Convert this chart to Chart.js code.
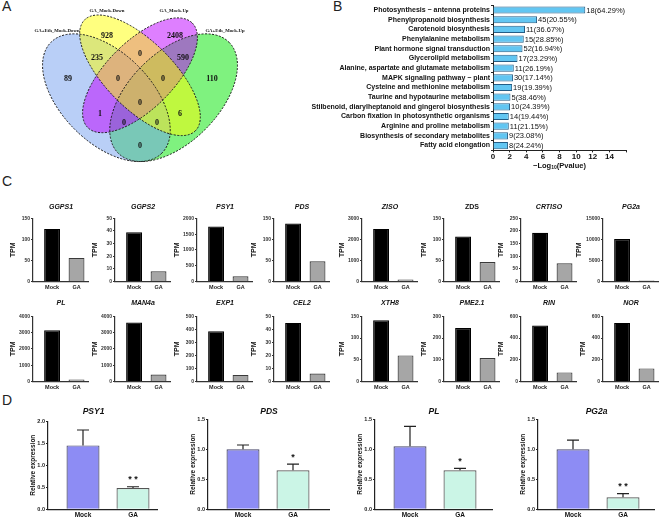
<!DOCTYPE html>
<html>
<head>
<meta charset="utf-8">
<script src="https://cdn.jsdelivr.net/npm/chart.js@4.4.1/dist/chart.umd.min.js"></script>
<style>
  body { margin: 0; width: 666px; height: 518px; overflow: hidden; background: #fff; position: relative; }
  canvas { position: absolute; }
  .tag { position: absolute; font: 14px "Liberation Sans", Arial, sans-serif; color: #222; }
</style>
</head>
<body>
<div class="tag" style="left:2px;top:-2px">A</div>
<div class="tag" style="left:333px;top:-2px">B</div>
<div class="tag" style="left:2px;top:173px">C</div>
<div class="tag" style="left:2px;top:392px">D</div>
<canvas id="cA" width="290" height="178" style="left:0;top:0"></canvas>
<canvas id="cB" width="376" height="172" style="left:290px;top:0"></canvas>
<div id="cC"></div>
<div id="cD"></div>
<script>
const ff = '"Liberation Sans", Arial, sans-serif';

// A: Venn counts
const vennSets = ['GA+Eth_Mock-Down', 'GA_Mock-Down', 'GA_Mock-Up', 'GA+Eth_Mock-Up'];
const vennCounts = [928, 2408, 235, 0, 590, 89, 0, 0, 110, 0, 1, 6, 0, 0, 0];

// B: KEGG enrichment
const pathways = ['Photosynthesis \u2212 antenna proteins', 'Phenylpropanoid biosynthesis', 'Carotenoid biosynthesis',
  'Phenylalanine metabolism', 'Plant hormone signal transduction', 'Glycerolipid metabolism',
  'Alanine, aspartate and glutamate metabolism', 'MAPK signaling pathway \u2212 plant', 'Cysteine and methionine metabolism',
  'Taurine and hypotaurine metabolism', 'Stilbenoid, diarylheptanoid and gingerol biosynthesis',
  'Carbon fixation in photosynthetic organisms', 'Arginine and proline metabolism',
  'Biosynthesis of secondary metabolites', 'Fatty acid elongation'];
const pathLog = [11.1, 5.3, 3.85, 3.7, 3.55, 2.95, 2.5, 2.4, 2.3, 2.1, 2.05, 1.9, 1.9, 1.8, 1.8];
const pathHits = ['18(64.29%)', '45(20.55%)', '11(36.67%)', '15(28.85%)', '52(16.94%)', '17(23.29%)', '11(26.19%)',
  '30(17.14%)', '19(19.39%)', '5(38.46%)', '10(24.39%)', '14(19.44%)', '11(21.15%)', '9(23.08%)', '8(24.24%)'];

// C: TPM
const groups = ['Mock', 'GA'];
const genesC = ['GGPS1', 'GGPS2', 'PSY1', 'PDS', 'ZISO', 'ZDS', 'CRTISO', 'PG2a',
  'PL', 'MAN4a', 'EXP1', 'CEL2', 'XTH8', 'PME2.1', 'RIN', 'NOR'];
const mockTPM = [125, 39, 1740, 138, 2500, 107, 193, 10100, 3150, 3620, 385, 45, 141, 246, 515, 540];
const gaTPM = [56, 8, 160, 48, 90, 46, 72, 200, 110, 420, 50, 6, 60, 108, 83, 120];
const maxTPM = [150, 50, 2000, 150, 3000, 150, 250, 15000, 4000, 4000, 500, 50, 150, 300, 600, 600];
const stepTPM = [50, 10, 500, 50, 1000, 50, 50, 5000, 1000, 1000, 100, 10, 50, 100, 200, 200];

// D: qPCR
const genesD = ['PSY1', 'PDS', 'PL', 'PG2a'];
const relMock = [1.45, 1.0, 1.05, 1.0];
const relGA = [0.48, 0.65, 0.65, 0.2];
const errMock = [0.35, 0.07, 0.33, 0.15];
const errGA = [0.03, 0.1, 0.03, 0.06];
const signif = ['* *', '*', '*', '* *'];
const maxRel = [2.0, 1.5, 1.5, 1.5];

const base = { responsive: false, animation: false, events: [] };
const noLegend = { legend: { display: false }, tooltip: { enabled: false } };

// ---------- A ----------
const ellipses = [ // cx, cy, rx, ry, rotation
  { cx: 106.4, cy: 97.7, rx: 78.4, ry: 44.8, rot: 45, fill: 'rgba(115,160,240,0.5)' },
  { cx: 140, cy: 75.3, rx: 78.4, ry: 33.6, rot: 45, fill: 'rgba(255,255,0,0.5)' },
  { cx: 140, cy: 75.3, rx: 73.9, ry: 33.6, rot: -45, fill: 'rgba(190,0,255,0.5)' },
  { cx: 173.6, cy: 97.7, rx: 78.4, ry: 44.8, rot: -45, fill: 'rgba(0,230,0,0.5)' }
];
const vennSpots = [[107, 36], [175, 36], [97, 58], [140, 54], [183, 58], [68, 79], [118, 79], [163, 79], [212, 79],
  [140, 103], [100, 114], [180, 114], [124, 123], [157, 123], [140, 146]];
const setSpots = [[57, 31], [107, 11], [174, 11], [225, 31]];

const vennPlugin = {
  id: 'venn',
  beforeDatasetsDraw(chart) {
    const { ctx, scales: { x, y } } = chart;
    const k = x.getPixelForValue(1) - x.getPixelForValue(0);
    const path = e => {
      ctx.beginPath();
      ctx.ellipse(x.getPixelForValue(e.cx), y.getPixelForValue(e.cy), e.rx * k, e.ry * k, e.rot * Math.PI / 180, 0, Math.PI * 2);
    };
    ctx.save();
    [3, 0, 2, 1].forEach(i => { path(ellipses[i]); ctx.fillStyle = ellipses[i].fill; ctx.fill(); });
    ctx.setLineDash([2, 1.5]);
    ctx.lineWidth = 1;
    ctx.strokeStyle = '#1a1a1a';
    ellipses.forEach(e => { path(e); ctx.stroke(); });
    ctx.restore();
  },
  afterDatasetsDraw(chart) {
    const { ctx, scales: { x, y } } = chart;
    const meta = chart.getDatasetMeta(0);
    ctx.save();
    ctx.textAlign = 'center';
    ctx.textBaseline = 'middle';
    ctx.fillStyle = '#111';
    ctx.font = 'bold 8px "Liberation Serif", serif';
    meta.data.forEach((pt, i) => ctx.fillText(String(vennCounts[i]), pt.x, pt.y));
    ctx.font = 'bold 4.8px "Liberation Serif", serif';
    vennSets.forEach((s, i) => ctx.fillText(s, x.getPixelForValue(setSpots[i][0]), y.getPixelForValue(setSpots[i][1])));
    ctx.restore();
  }
};

new Chart(document.getElementById('cA'), {
  type: 'scatter',
  data: { datasets: [{ data: vennSpots.map(p => ({ x: p[0], y: p[1] })), pointRadius: 0 }] },
  options: {
    ...base,
    layout: { padding: 0 },
    plugins: noLegend,
    scales: {
      x: { display: false, min: 0, max: 290 },
      y: { display: false, min: 0, max: 178, reverse: true }
    }
  },
  plugins: [vennPlugin]
});

// ---------- B ----------
const hitsPlugin = {
  id: 'hits',
  afterDatasetsDraw(chart) {
    const { ctx } = chart;
    ctx.save();
    ctx.font = '7.5px ' + ff;
    ctx.fillStyle = '#111';
    ctx.textBaseline = 'middle';
    chart.getDatasetMeta(0).data.forEach((bar, i) => ctx.fillText(pathHits[i], bar.x + 1, bar.y + 0.5));
    ctx.restore();
  },
  afterDraw(chart) {
    // x axis title with a real subscript
    const { ctx, chartArea } = chart;
    const xs = chart.scales.x;
    const parts = [['\u2212Log', 7.5, 0], ['10', 5, 2], ['(Pvalue)', 7.5, 0]];
    ctx.save();
    ctx.fillStyle = '#111';
    ctx.textBaseline = 'middle';
    let w = 0;
    parts.forEach(p => { ctx.font = 'bold ' + p[1] + 'px ' + ff; w += ctx.measureText(p[0]).width; });
    let x = (chartArea.left + chartArea.right) / 2 - w / 2;
    const y = xs.bottom + 4;
    parts.forEach(p => {
      ctx.font = 'bold ' + p[1] + 'px ' + ff;
      ctx.fillText(p[0], x, y + p[2]);
      x += ctx.measureText(p[0]).width;
    });
    ctx.restore();
  }
};

new Chart(document.getElementById('cB'), {
  type: 'bar',
  data: {
    labels: pathways,
    datasets: [{ data: pathLog, backgroundColor: '#62c6f2', borderColor: '#245d86', borderWidth: 1,
      barPercentage: 0.74, categoryPercentage: 1 }]
  },
  options: {
    ...base,
    indexAxis: 'y',
    layout: { padding: { left: 0, right: 40, top: 3, bottom: 10 } },
    plugins: noLegend,
    scales: {
      y: {
        ticks: { font: { family: ff, size: 7, weight: 'bold' }, color: '#111', padding: 1, autoSkip: false },
        grid: { drawOnChartArea: false, tickLength: 2, color: '#222' },
        border: { color: '#222', width: 1 },
        afterFit: s => { s.width = 203; }
      },
      x: {
        min: 0, max: 16,
        ticks: { stepSize: 2, callback: v => (v > 14 ? '' : String(v)), font: { family: ff, size: 8, weight: 'bold' }, color: '#111', padding: 0 },
        grid: { drawOnChartArea: false, tickLength: 2, color: '#222' },
        border: { color: '#222', width: 1 }
      }
    }
  },
  plugins: [hitsPlugin]
});

// ---------- C ----------
const axisXC = [33, 115, 197, 274, 362, 444, 521, 603];
const holderC = document.getElementById('cC');
genesC.forEach((g, i) => {
  const row = Math.floor(i / 8), col = i % 8;
  const cv = document.createElement('canvas');
  cv.width = 88; cv.height = row === 0 ? 95 : 99;
  cv.style.left = (axisXC[col] - 32) + 'px';
  cv.style.top = (row === 0 ? 199 : 295) + 'px';
  holderC.appendChild(cv);
  const wide = maxTPM[i] >= 10000;
  new Chart(cv, {
    type: 'bar',
    data: {
      datasets: [{
        data: [{ x: 1, y: mockTPM[i] }, { x: 2, y: gaTPM[i] }],
        backgroundColor: ['#000', '#a6a6a6'], borderColor: ['#000', '#3a3a3a'], borderWidth: 1.2,
        barPercentage: 0.65, categoryPercentage: 1
      }]
    },
    options: {
      ...base,
      layout: { padding: { left: wide ? 4 : 8, right: 0, top: 0, bottom: 0 } },
      plugins: {
        ...noLegend,
        title: { display: true, text: g, fullSize: false, color: '#111',
          font: { family: ff, size: 7, weight: 'bold', style: g === 'ZDS' ? 'normal' : 'italic' },
          padding: { top: 4, bottom: row === 0 ? 7 : 9 } }
      },
      scales: {
        x: {
          type: 'linear', min: 0.22, max: 2.51, offset: false,
          afterBuildTicks: s => { s.ticks = [{ value: 1 }, { value: 2 }]; },
          ticks: { callback: v => groups[v - 1], font: { family: ff, size: 5.5, weight: 'bold' }, color: '#222',
            padding: 3, maxRotation: 0, autoSkip: false },
          grid: { display: false, drawTicks: false },
          border: { color: '#333', width: 1.2 }
        },
        y: {
          min: 0, max: maxTPM[i],
          ticks: { stepSize: stepTPM[i], callback: v => String(v), font: { family: ff, size: 5, weight: 'bold' }, color: '#333', padding: 1 },
          grid: { drawOnChartArea: false, tickLength: 2, color: '#333' },
          border: { color: '#333', width: 1.2 },
          title: { display: true, text: 'TPM', color: '#111', font: { family: ff, size: 7, weight: 'bold' }, padding: 0 },
          afterFit: s => { s.width = wide ? 28 : 24; }
        }
      }
    }
  });
});

// ---------- D ----------
const axisXD = [48, 208, 375, 538];
const plotWD = [110, 122, 118, 117];
const errPlugin = {
  id: 'errs',
  afterDatasetsDraw(chart, args, o) {
    const { ctx, scales: { y } } = chart;
    const bars = chart.getDatasetMeta(0).data;
    ctx.save();
    ctx.strokeStyle = '#222';
    ctx.lineWidth = 1.2;
    const tops = [];
    bars.forEach((bar, j) => {
      const v = j === 0 ? relMock[o.i] : relGA[o.i];
      const e = j === 0 ? errMock[o.i] : errGA[o.i];
      const y0 = y.getPixelForValue(v), y1 = y.getPixelForValue(v + e);
      tops.push(y1);
      ctx.beginPath();
      ctx.moveTo(bar.x, y0); ctx.lineTo(bar.x, y1);
      ctx.moveTo(bar.x - 6, y1); ctx.lineTo(bar.x + 6, y1);
      ctx.stroke();
    });
    ctx.fillStyle = '#111';
    ctx.font = 'bold 9px ' + ff;
    ctx.textAlign = 'center';
    ctx.textBaseline = 'middle';
    ctx.fillText(signif[o.i], bars[1].x, tops[1] - 7);
    ctx.restore();
  }
};
const holderD = document.getElementById('cD');
genesD.forEach((g, i) => {
  const cv = document.createElement('canvas');
  cv.width = 20 + plotWD[i]; cv.height = 117;
  cv.style.left = (axisXD[i] - 20) + 'px';
  cv.style.top = '405px';
  holderD.appendChild(cv);
  const pxU = 50;
  const xmin = 1 - 35 / pxU;
  new Chart(cv, {
    type: 'bar',
    data: {
      datasets: [{
        data: [{ x: 1, y: relMock[i] }, { x: 2, y: relGA[i] }],
        backgroundColor: ['#8d8cf4', '#cbf5e6'], borderColor: ['#4a4a6a', '#555'], borderWidth: 1.2,
        barPercentage: 0.66, categoryPercentage: 1
      }]
    },
    options: {
      ...base,
      layout: { padding: { left: 1, right: 0, top: 0, bottom: 1 } },
      plugins: {
        ...noLegend,
        errs: { i },
        title: { display: true, text: g, fullSize: i === 0, color: '#111',
          font: { family: ff, size: 8.5, weight: 'bold', style: 'italic' }, padding: { top: 2, bottom: i === 0 ? 4 : 2 } }
      },
      scales: {
        x: {
          type: 'linear', min: xmin, max: xmin + plotWD[i] / pxU, offset: false,
          afterBuildTicks: s => { s.ticks = [{ value: 1 }, { value: 2 }]; },
          ticks: { callback: v => groups[v - 1], font: { family: ff, size: 6.5, weight: 'bold' }, color: '#111',
            padding: 2, maxRotation: 0, autoSkip: false },
          grid: { display: false, drawTicks: false },
          border: { color: '#222', width: 1.2 }
        },
        y: {
          min: 0, max: maxRel[i],
          ticks: { stepSize: 0.5, callback: v => v.toFixed(1), font: { family: ff, size: 5.5, weight: 'bold' }, color: '#222', padding: 1 },
          grid: { drawOnChartArea: false, tickLength: 2, color: '#222' },
          border: { color: '#222', width: 1.2 },
          title: { display: true, text: 'Relative expression', color: '#111', font: { family: ff, size: 6.5, weight: 'bold' }, padding: 0 },
          afterFit: s => { s.width = 19; }
        }
      }
    },
    plugins: [errPlugin]
  });
});
</script>
</body>
</html>
